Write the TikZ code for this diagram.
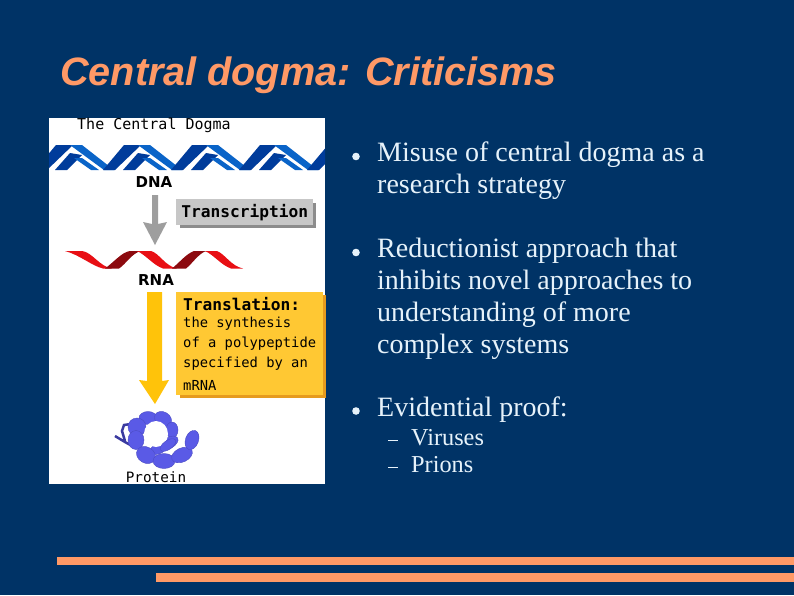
\documentclass[tikz,border=0pt]{standalone}
\usepackage{fontspec}
\setmainfont{Liberation Serif}
\newfontfamily\titlefont{Liberation Sans}
\newfontfamily\pixfont{DejaVu Sans Mono}
\newfontfamily\pixsans{DejaVu Sans}
\definecolor{bgblue}{HTML}{003366}
\definecolor{salmon}{HTML}{FF9966}
\definecolor{bodytxt}{HTML}{E6F2FA}
\definecolor{dnalight}{HTML}{0A64C8}
\definecolor{dnadark}{HTML}{003C9B}
\definecolor{rnalight}{HTML}{E80F14}
\definecolor{rnadark}{HTML}{8C0A0F}
\definecolor{panelgold}{HTML}{FFC833}
\definecolor{panelshade}{HTML}{E69B1E}
\definecolor{arrowgold}{HTML}{FFC30A}
\definecolor{protblue}{HTML}{5A5AE6}
\definecolor{protdark}{HTML}{3A3AA0}
\tikzset{bullettext/.style={anchor=north west,align=left,text=bodytxt,font=\fontsize{28}{32}\selectfont,inner sep=0pt},
subtext/.style={anchor=north west,text=bodytxt,font=\fontsize{24.3}{27}\selectfont,inner sep=0pt},
pixlabel/.style={text=black,inner sep=0pt,anchor=west,font=\pixfont\fontsize{13.8}{20}\selectfont},
pixbold/.style={text=black,inner sep=0pt,font=\pixfont\bfseries\fontsize{16.2}{20}\selectfont},
pixname/.style={text=black,inner sep=0pt,font=\pixsans\bfseries\fontsize{15}{20}\selectfont},
bead/.style={fill=protblue,draw=protblue!85!black,line width=0.4pt},
rule/.style={fill=salmon,draw=none}}
\begin{document}
\begin{tikzpicture}[x=1pt,y=-1pt]
\useasboundingbox (0,0) rectangle (794,595);
\fill[bgblue] (0,0) rectangle (794,595);
\node[anchor=west,inner sep=0pt,text=salmon,font=\titlefont\bfseries\itshape\fontsize{39.6}{42}\selectfont] (title) at (60,75) {Central dogma: Criticisms};

% figure panel
\fill[white] (49,118) rectangle (325,484);
\node[pixlabel,font=\pixfont\fontsize{15}{20}\selectfont] (head) at (77,125) {The Central Dogma};
\begin{scope}
\clip (49,145) rectangle (325,170);
\foreach \k in {-1,...,4}{
\begin{scope}[xshift=68*\k]
\fill[dnadark] (35,170) -- (47,170) -- (73,145) -- (56,145) -- cycle;
\fill[dnadark] (55,170) -- (67,170) -- (82,155) -- (70,153) -- cycle;
\fill[dnalight] (70,145) -- (82,145) -- (114,170) -- (104,170) -- cycle;
\fill[dnalight] (74,158) -- (82,158) -- (99,170) -- (91,170) -- cycle;
\end{scope}
}
\end{scope}
\node[pixname] (dna) at (154,182) {DNA};
\node[pixname] (rna) at (156,280) {RNA};

% transcription
\fill[black!45] (180,203) rectangle (316,228);
\node[fill=black!22,minimum width=137pt,minimum height=26pt,inner sep=0pt,anchor=north west] (transcr) at (176,199) {};
\node[pixbold] (transtxt) at (transcr.center) {Transcription};
\fill[black!38] (152,195) -- (158,195) -- (158,224) -- (167,222) -- (155,245) -- (143,222) -- (152,224) -- cycle;

% rna strand
\fill[rnalight] (65,251) -- (82,251) .. controls (92,252) and (100,267) .. (112,268.5) -- (103,268.5) .. controls (92,266) and (80,255) .. (65,251) -- cycle;
\fill[rnadark] (105,268.5) -- (119,268.5) .. controls (126,264) and (132,253) .. (141,251) -- (130,251) .. controls (122,252) and (114,262) .. (105,268.5) -- cycle;
\fill[rnalight] (137,251) -- (151,251) .. controls (159,253) and (165,266) .. (177,268.5) -- (163,268.5) .. controls (153,265) and (146,255) .. (137,251) -- cycle;
\fill[rnadark] (172,268.5) -- (186,268.5) .. controls (192,264) and (198,254) .. (206,251) -- (194,251) .. controls (186,254) and (180,262) .. (172,268.5) -- cycle;
\fill[rnalight] (205,251) -- (217,251) .. controls (225,254) and (231,266) .. (243,268.5) -- (231,268.5) .. controls (221,265) and (214,255) .. (205,251) -- cycle;

% translation
\fill[panelshade] (180,295) rectangle (325.5,397.5);
\node[fill=panelgold,minimum width=147pt,minimum height=103pt,inner sep=0pt,anchor=north west] (transl) at (176,292) {};
\node[pixbold,anchor=west] (t1) at (183,304) {Translation:};
\node[pixlabel] (t2) at (183,324) {the synthesis};
\node[pixlabel] (t3) at (183,344) {of a polypeptide};
\node[pixlabel] (t4) at (183,364) {specified by an};
\node[pixlabel] (t5) at (183,385) {mRNA};
\fill[arrowgold] (147,292) -- (162,292) -- (162,381) -- (169,380) -- (155,404) -- (139,380) -- (147,381) -- cycle;

% protein
\draw[protdark,line width=2.5pt] (131,424) -- (124,425) -- (122,431) -- (125,441) (115,436) -- (125,442) -- (134,447);
\foreach \x/\y/\rx/\ry/\ang in {148/418/9/6.5/0,163/419/9/7/-30,172/430/6/8/0,169/443/10/5.5/30,158/449/8/5/20,137/427/9/9/0,136/440/8/9.5/0,146/455/10/8/-30,164/461/11/7.5/0,182/455/11/7/25,192/440/10/6.5/70}{
\fill[bead] (\x,\y) ellipse[x radius=\rx,y radius=\ry,rotate=\ang];
}
\fill[white] (156,434) ellipse[x radius=12,y radius=13];
\fill[bead] (168,445) ellipse[x radius=9,y radius=4.5,rotate=35];
\node[pixlabel,anchor=center,font=\pixfont\fontsize{14.3}{20}\selectfont] (prot) at (156,477) {Protein};

% bullet list
\foreach \yy in {156.5,252.5,411}{
\fill[bodytxt] (356,\yy) circle (3.8);
}
\node[bullettext] (b1) at (377,142) {Misuse of central dogma as a\\research strategy};
\node[bullettext] (b2) at (377,238) {Reductionist approach that\\inhibits novel approaches to\\understanding of more\\complex systems};
\node[bullettext] (b3) at (377,397) {Evidential proof:};
\draw[bodytxt,line width=1pt] (388,440) -- (398,440) (388,467) -- (398,467);
\node[subtext] (s1) at (411,429) {Viruses};
\node[subtext] (s2) at (411,456) {Prions};

% rules
\fill[rule] (57,557) rectangle (794,565);
\fill[rule] (156,573) rectangle (794,582);
\end{tikzpicture}
\end{document}
